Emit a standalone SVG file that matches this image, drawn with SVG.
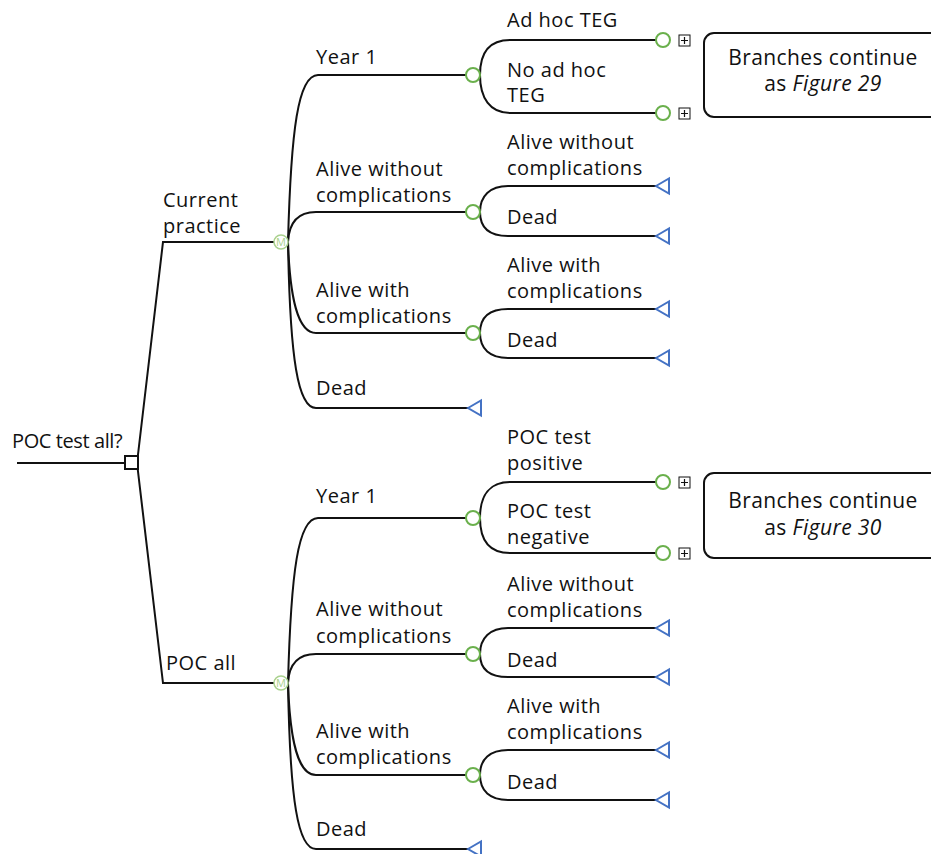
<svg xmlns="http://www.w3.org/2000/svg" width="931" height="854" viewBox="0 0 931 854">
<defs>
<style>
text{font-family:"Open Sans","Noto Sans",sans-serif;font-size:20px;letter-spacing:0.5px;fill:#111}
.ln{fill:none;stroke:#111;stroke-width:2}
.ch{fill:#fff;stroke:#6AB04C;stroke-width:2}
.mk{fill:#fff;stroke:#A9D18E;stroke-width:1.5}
.mt{font-size:11px;letter-spacing:0;fill:#A9D18E;text-anchor:middle}
.tr{fill:#fff;stroke:#4472C4;stroke-width:2;stroke-linejoin:miter}
.pb{fill:#fff;stroke:#111;stroke-width:1}
.bx{fill:#fff;stroke:#111;stroke-width:2}
.c{text-anchor:middle;font-size:21px;letter-spacing:0.4px}
.q{letter-spacing:-0.4px}
</style>
<g id="tri"><path class="tr" d="M0,0 L13,-7.5 L13,7.5 Z"/></g>
<g id="plus"><rect class="pb" x="-5.5" y="-5.5" width="11" height="11"/><path d="M-3.5,0 H3.5 M0,-3.5 V3.5" stroke="#111" stroke-width="1.2"/></g>
</defs>
<rect width="931" height="854" fill="#fff"/>

<g id="connectors">
<path class="ln" d="M17,463 H125"/>
<path class="ln" d="M137,463 L163,242 H274"/>
<path class="ln" d="M137,463 L163,683 H274"/>
<path class="ln" d="M288,242 C291,130 298,75 318,75 H466"/>
<path class="ln" d="M288,242 C289,222 298,212 316,212 H466"/>
<path class="ln" d="M288,242 C290,300 298,333 316,333 H466"/>
<path class="ln" d="M288,242 C290,360 298,408 316,408 H468"/>
<path class="ln" d="M480,75 C480,52 490,40 510,40 H656"/>
<path class="ln" d="M480,75 C480,98 490,113 510,113 H656"/>
<path class="ln" d="M480,212 C480,196 490,186 508,186 H656"/>
<path class="ln" d="M480,212 C480,228 490,236 508,236 H656"/>
<path class="ln" d="M480,333 C480,317 490,309 508,309 H656"/>
<path class="ln" d="M480,333 C480,349 490,358 508,358 H656"/>
<path class="ln" d="M288,683 C291,572 298,518 318,518 H466"/>
<path class="ln" d="M288,683 C289,664 298,654 316,654 H466"/>
<path class="ln" d="M288,683 C290,742 298,775 316,775 H466"/>
<path class="ln" d="M288,683 C290,802 298,849 316,849 H468"/>
<path class="ln" d="M480,518 C480,495 490,482 510,482 H656"/>
<path class="ln" d="M480,518 C480,541 490,553 510,553 H656"/>
<path class="ln" d="M480,654 C480,638 490,628 508,628 H656"/>
<path class="ln" d="M480,654 C480,670 490,677 508,677 H656"/>
<path class="ln" d="M480,775 C480,759 490,750 508,750 H656"/>
<path class="ln" d="M480,775 C480,791 490,800 508,800 H656"/>
</g>

<g id="decision"><rect x="125" y="456" width="13" height="13" fill="#fff" stroke="#111" stroke-width="2"/><text class="q" x="12" y="448">POC test all?</text></g>

<g id="current-practice"><text x="163" y="207">Current</text><text x="163" y="233">practice</text><circle class="mk" cx="281" cy="242" r="7"/><text class="mt" x="281" y="246">M</text></g>
<g id="cp-year1"><text x="316" y="64">Year 1</text><circle class="ch" cx="473" cy="75" r="7"/></g>
<g id="cp-adhoc"><text x="507" y="27">Ad hoc TEG</text><circle class="ch" cx="663" cy="40" r="7"/><use href="#plus" x="684.5" y="40.5"/></g>
<g id="cp-noadhoc"><text x="507" y="77">No ad hoc</text><text x="507" y="102">TEG</text><circle class="ch" cx="663" cy="113" r="7"/><use href="#plus" x="684.5" y="113.5"/></g>
<g id="box29"><rect class="bx" x="704" y="33" width="240" height="84" rx="10"/><text class="c" x="823" y="65">Branches continue</text><text class="c" x="823" y="91">as <tspan font-style="italic">Figure 29</tspan></text></g>
<g id="cp-awo"><text x="316" y="176">Alive without</text><text x="316" y="202">complications</text><circle class="ch" cx="473" cy="212" r="7"/></g>
<g id="cp-awo-awo"><text x="507" y="149">Alive without</text><text x="507" y="175">complications</text><use href="#tri" x="656" y="186"/></g>
<g id="cp-awo-dead"><text x="507" y="224">Dead</text><use href="#tri" x="656" y="236"/></g>
<g id="cp-aw"><text x="316" y="297">Alive with</text><text x="316" y="323">complications</text><circle class="ch" cx="473" cy="333" r="7"/></g>
<g id="cp-aw-aw"><text x="507" y="272">Alive with</text><text x="507" y="298">complications</text><use href="#tri" x="656" y="309"/></g>
<g id="cp-aw-dead"><text x="507" y="347">Dead</text><use href="#tri" x="656" y="358"/></g>
<g id="cp-dead"><text x="316" y="395">Dead</text><use href="#tri" x="468" y="408"/></g>

<g id="poc-all"><text x="166" y="670">POC all</text><circle class="mk" cx="281" cy="683" r="7"/><text class="mt" x="281" y="687">M</text></g>
<g id="pa-year1"><text x="316" y="503">Year 1</text><circle class="ch" cx="473" cy="518" r="7"/></g>
<g id="pa-pos"><text x="507" y="444">POC test</text><text x="507" y="470">positive</text><circle class="ch" cx="663" cy="482" r="7"/><use href="#plus" x="684.5" y="482.5"/></g>
<g id="pa-neg"><text x="507" y="518">POC test</text><text x="507" y="544">negative</text><circle class="ch" cx="663" cy="553" r="7"/><use href="#plus" x="684.5" y="553.5"/></g>
<g id="box30"><rect class="bx" x="704" y="473" width="240" height="85" rx="10"/><text class="c" x="823" y="508">Branches continue</text><text class="c" x="823" y="535">as <tspan font-style="italic">Figure 30</tspan></text></g>
<g id="pa-awo"><text x="316" y="616">Alive without</text><text x="316" y="643">complications</text><circle class="ch" cx="473" cy="654" r="7"/></g>
<g id="pa-awo-awo"><text x="507" y="591">Alive without</text><text x="507" y="617">complications</text><use href="#tri" x="656" y="628"/></g>
<g id="pa-awo-dead"><text x="507" y="667">Dead</text><use href="#tri" x="656" y="677"/></g>
<g id="pa-aw"><text x="316" y="738">Alive with</text><text x="316" y="764">complications</text><circle class="ch" cx="473" cy="775" r="7"/></g>
<g id="pa-aw-aw"><text x="507" y="713">Alive with</text><text x="507" y="739">complications</text><use href="#tri" x="656" y="750"/></g>
<g id="pa-aw-dead"><text x="507" y="789">Dead</text><use href="#tri" x="656" y="800"/></g>
<g id="pa-dead"><text x="316" y="836">Dead</text><use href="#tri" x="468" y="849"/></g>
</svg>
